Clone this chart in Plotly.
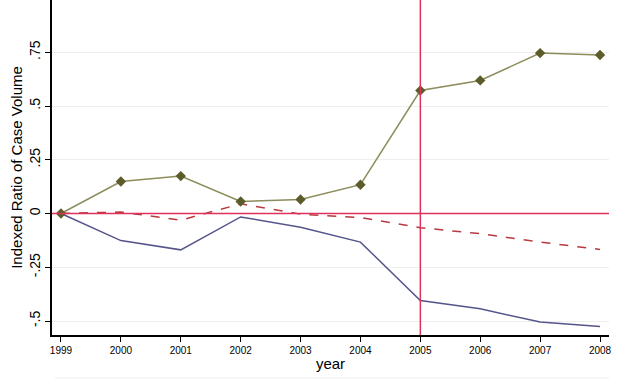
import plotly.graph_objects as go

years = [1999, 2000, 2001, 2002, 2003, 2004, 2005, 2006, 2007, 2008]
series_green = [0.0, 0.149, 0.174, 0.056, 0.065, 0.134, 0.572, 0.619, 0.746, 0.737]
series_blue = [0.0, -0.126, -0.169, -0.016, -0.064, -0.133, -0.405, -0.443, -0.505, -0.525]
series_red = [0.0, 0.007, -0.031, 0.045, -0.003, -0.019, -0.066, -0.094, -0.133, -0.167]
ytick_vals = [-0.5, -0.25, 0, 0.25, 0.5, 0.75]
ytick_text = ["-.5", "-.25", "0", ".25", ".5", ".75"]
policy_year = 2005

fig = go.Figure()
fig.add_trace(go.Scatter(x=years, y=series_blue, mode="lines",
                         line=dict(color="#55558c", width=1.5), showlegend=False))
fig.add_trace(go.Scatter(x=years, y=series_red, mode="lines",
                         line=dict(color="#b8393f", width=1.5, dash="dash"), showlegend=False))
fig.add_trace(go.Scatter(x=years, y=series_green, mode="lines+markers",
                         line=dict(color="#8c8c5c", width=1.5),
                         marker=dict(symbol="diamond", size=8, color="#5c5c2a"),
                         showlegend=False))

fig.add_hline(y=0, line=dict(color="#e0315c", width=1.5))
fig.add_vline(x=policy_year, line=dict(color="#e0315c", width=1.5))

# faint border at the very bottom (cut-off legend box)
fig.add_shape(type="line", xref="paper", yref="paper", x0=0.005, x1=1.0, y0=-0.128, y1=-0.128,
              line=dict(color="#eeeeee", width=1))

fig.update_layout(
    width=623, height=380,
    margin=dict(l=52, r=14, t=0, b=45, autoexpand=False),
    paper_bgcolor="white", plot_bgcolor="white",
    font=dict(family="Arial, Liberation Sans, sans-serif", color="#000000"),
    xaxis=dict(range=[1998.85, 2008.15], tickvals=years, ticktext=[str(y) for y in years],
               tickfont=dict(size=10, family="Liberation Sans Narrow, Arial Narrow, Arial"),
               ticks="outside", ticklen=5, tickcolor="#000", showgrid=False, automargin=False,
               showline=True, linecolor="#000", linewidth=1.5, zeroline=False,
               title=dict(text="year", font=dict(size=15), standoff=4)),
    yaxis=dict(range=[-0.565, 0.993], tickvals=ytick_vals, ticktext=ytick_text,
               tickangle=-90, tickfont=dict(size=14), automargin=False,
               ticks="outside", ticklen=5, tickcolor="#000",
               showgrid=True, gridcolor="#efefef", gridwidth=1,
               showline=True, linecolor="#000", linewidth=1.5, zeroline=False,
               title=dict(text="Indexed Ratio of Case Volume", font=dict(size=15), standoff=0)),
)

fig.write_html("out.html", config={"displayModeBar": False},
               post_script="document.body.style.margin='0';document.body.style.overflow='hidden';")
